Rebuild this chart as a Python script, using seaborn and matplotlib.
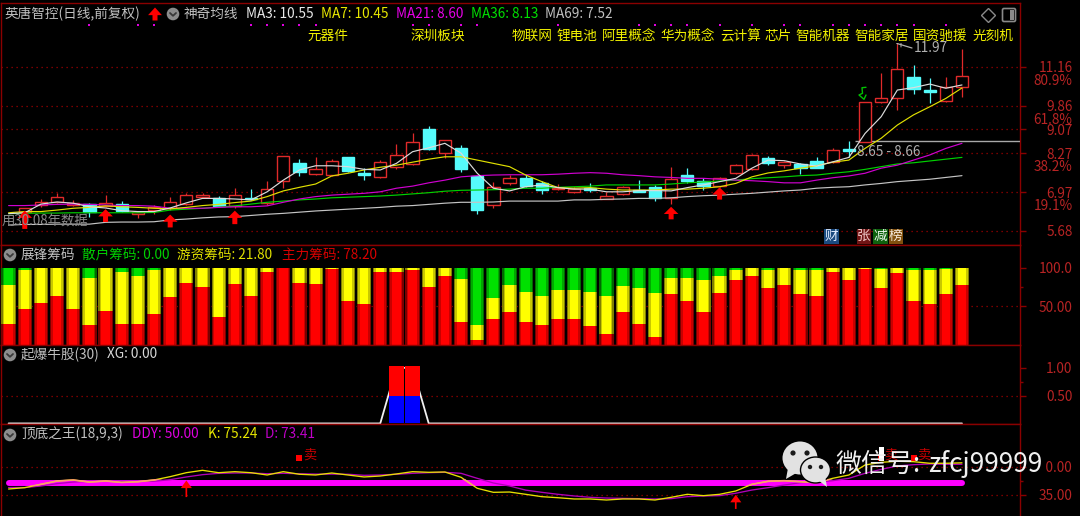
import numpy as np
import pandas as pd
import matplotlib
matplotlib.use("Agg")
import matplotlib.pyplot as plt
from matplotlib.patches import Circle, Ellipse, Polygon, Rectangle, FancyBboxPatch
import seaborn as sns

# ---------------- data ----------------
candle_open = [6.40,6.30,6.54,6.65,6.54,6.57,6.51,6.58,6.23,6.37,6.43,6.57,6.82,6.78,6.52,6.77,6.60,7.35,7.94,7.57,7.54,8.13,7.60,7.49,7.82,7.90,9.07,8.26,8.44,7.52,6.54,7.26,7.45,7.28,7.06,6.99,7.12,6.74,6.90,7.05,7.14,6.78,7.53,7.33,7.18,7.61,7.75,8.10,7.89,7.92,8.02,7.99,8.41,8.65,9.99,10.10,10.83,10.39,10.00,10.47]
candle_close = [6.40,6.45,6.64,6.80,6.62,6.29,6.60,6.35,6.32,6.48,6.63,6.86,6.87,6.51,6.87,6.73,7.06,8.17,7.64,7.75,8.02,7.68,7.55,7.99,8.21,8.65,8.41,8.70,7.73,6.37,7.13,7.43,7.17,7.04,7.12,7.07,7.04,6.84,7.13,6.98,6.78,7.42,7.33,7.18,7.43,7.87,8.20,7.95,7.97,7.79,7.79,8.37,8.34,9.97,10.10,11.09,10.41,10.32,10.47,10.86]
candle_high = [6.40,6.45,6.74,6.94,6.71,6.62,6.87,6.68,6.32,6.54,6.81,6.95,6.95,6.84,7.10,7.07,7.34,8.17,8.07,8.13,8.08,8.15,7.76,8.04,8.57,8.93,9.18,8.71,8.54,7.54,7.32,7.54,7.54,7.34,7.23,7.15,7.26,6.98,7.17,7.37,7.20,7.80,7.76,7.43,7.47,7.91,8.25,8.18,8.02,7.95,8.15,8.43,8.68,9.97,10.94,11.97,11.21,10.79,10.80,11.75]
candle_low = [6.40,6.20,6.47,6.60,6.50,6.15,6.47,6.32,6.11,6.24,6.37,6.54,6.77,6.47,6.45,6.70,6.54,7.12,7.52,7.54,7.51,7.65,7.37,7.45,7.73,7.87,8.38,8.12,7.65,6.23,6.43,7.20,7.15,6.91,7.04,6.95,6.98,6.74,6.87,6.96,6.67,6.57,7.26,7.04,7.13,7.56,7.72,7.87,7.76,7.57,7.77,7.95,8.15,8.65,9.96,9.71,10.25,9.96,9.99,10.16]

ma3 = [6.25,6.28,6.57,6.64,6.60,6.48,6.44,6.35,6.32,6.32,6.44,6.61,6.76,6.76,6.74,6.71,6.98,7.37,7.71,7.85,7.85,7.82,7.73,7.71,7.93,8.32,8.45,8.60,8.27,7.60,7.10,7.01,7.15,7.21,7.12,7.07,7.07,6.98,6.98,7.02,7.02,7.01,7.12,7.21,7.32,7.43,7.77,8.04,8.02,7.91,7.84,7.98,8.13,8.93,9.49,10.38,10.46,10.58,10.44,10.55]
ma7 = [6.28,6.32,6.32,6.37,6.43,6.46,6.51,6.48,6.46,6.43,6.41,6.46,6.52,6.56,6.62,6.67,6.82,7.01,7.13,7.24,7.51,7.60,7.71,7.80,7.87,7.97,8.07,8.15,8.15,8.04,7.93,7.82,7.54,7.32,7.12,7.10,7.12,7.07,7.04,7.04,7.04,7.07,7.07,7.10,7.15,7.26,7.48,7.61,7.68,7.77,7.85,7.97,8.04,8.43,8.77,9.21,9.55,9.82,10.10,10.45]
ma21 = [6.52,6.52,6.54,6.56,6.57,6.56,6.54,6.52,6.52,6.50,6.43,6.43,6.43,6.46,6.48,6.48,6.51,6.63,6.74,6.82,6.87,6.90,6.93,6.98,7.10,7.17,7.28,7.37,7.48,7.52,7.54,7.55,7.55,7.55,7.57,7.60,7.62,7.60,7.55,7.52,7.48,7.46,7.43,7.43,7.40,7.37,7.35,7.32,7.28,7.28,7.37,7.45,7.51,7.60,7.77,7.87,8.04,8.21,8.43,8.60]
ma36 = [6.25,6.26,6.27,6.27,6.28,6.28,6.28,6.28,6.28,6.29,6.37,6.40,6.43,6.47,6.51,6.57,6.63,6.67,6.71,6.74,6.78,6.80,6.82,6.84,6.87,6.91,6.95,7.00,7.03,7.04,7.05,7.07,7.10,7.10,7.13,7.15,7.17,7.21,7.21,7.21,7.21,7.24,7.28,7.31,7.34,7.37,7.42,7.45,7.48,7.52,7.54,7.60,7.65,7.73,7.82,7.91,7.95,8.01,8.07,8.13]
ma69 = [5.87,5.89,5.89,5.90,5.90,5.90,5.96,5.97,5.97,5.98,6.04,6.07,6.11,6.14,6.15,6.19,6.23,6.26,6.30,6.34,6.37,6.40,6.43,6.46,6.50,6.52,6.56,6.60,6.63,6.63,6.64,6.67,6.67,6.67,6.67,6.71,6.71,6.73,6.74,6.76,6.76,6.78,6.82,6.85,6.87,6.90,6.93,6.97,7.01,7.04,7.10,7.13,7.15,7.21,7.26,7.32,7.36,7.40,7.46,7.52]

chip_main = [27.2,46.6,54.3,63.4,46.6,25.9,44,27.2,27.2,40.5,61.6,80.6,75,36.2,79.3,63.4,94.4,99,80.6,79.3,98,57.3,52.6,94.4,94.4,97,75,89.7,30,6.5,33.6,42.2,30,25.9,33.6,33.6,24.6,14.2,42.2,27.2,10.8,66,57.3,42.2,67.7,84,89.7,73.7,78,66,63.4,94.4,84,98.3,73.7,93.1,57.3,52.6,66,78.2]
chip_main_hot = [78,97,99,99,99,86.6,99,94.4,89.7,97,99,99,99,99,99,99,99,99,99,99,99,99,99,99,99,99.5,99,99,85.3,25.9,60.3,78,69,63.4,71.1,71.1,69,63.4,76.3,73.7,67.7,87,87,84,89.7,97,99,97,99,97,97,99,99,99,98.3,99,97,97,98.3,100]

xg = [0]*24 + [1,1] + [0]*34
xg_blue = [0.5, 0.5]
xg_red = [0.53, 0.53]
ddy = [50]*60
kdj_k = [42.2,43.9,48.1,52.3,53.6,51,52.3,50.5,51.4,53.6,57.8,62.8,65.8,62.8,64.1,62.8,59.9,64.1,60.8,59.9,62.4,59.9,57.4,58.6,61.2,64.1,63.3,63.7,57,43.1,38,38.4,35.5,32.5,31.2,29.6,29.6,28.3,29.6,29.6,28.3,31.7,35.5,33.8,35.5,39.7,48.1,51.9,52.7,51.4,50.2,55.7,59.9,72.5,75.9,77.2,76.7,74.7,74.7,75.24]
kdj_d = [44,44,46,49,51,52,52,52,52,52,54,57.4,60.3,62,62.4,62.4,61.5,62,61.5,61,61,60.8,59.5,59.9,60.8,62,62.8,63.3,62,55.7,49.8,46,40.8,38,35.5,33.4,31.7,30.8,30.4,30,29.6,30,32.5,33.4,33.8,36.8,40.9,43.9,47.2,50.2,50.9,52.7,55.7,62,67,71.3,72.9,73.8,73.4,73.41]

price_ticks = [11.16, 9.86, 9.07, 8.27, 6.97, 5.68]
price_labels = ["11.16", "9.86", "9.07", "8.27", "6.97", "5.68"]
fib_levels = [10.72, 9.44, 7.87, 6.54]
fib_labels = ["80.9%", "61.8%", "38.2%", "19.1%"]
chip_ticks = [100, 50]
chip_labels = ["100.0", "50.00"]
xg_ticks = [1, 0.5]
xg_labels = ["1.00", "0.50"]
kdj_ticks = [70, 35]
kdj_labels = ["70.00", "35.00"]
arrow_up_idx = [1, 6, 10, 14, 41, 44]
arrow_up_top = [6.35, 6.40, 6.22, 6.35, 6.48, 7.13]
arrow_up_bot = [5.74, 5.97, 5.79, 5.90, 6.06, 6.72]
dot_idx = [5,8,9,15,16,17,18,19,25,26,28,29,34,39,40,41,42,44,46,48,49,51,52,53,54,55,56,58]
sectors = ["元器件","深圳板块","物联网","锂电池","阿里概念","华为概念","云计算","芯片","智能机器","智能家居","国资驰援","光刻机"]

idx = np.arange(60)
df = pd.DataFrame({"i": idx, "MA3": ma3, "MA7": ma7, "MA21": ma21, "MA36": ma36, "MA69": ma69,
                   "main": chip_main, "hot": chip_main_hot, "xg": xg, "ddy": ddy, "k": kdj_k, "d": kdj_d})

# ---------------- style ----------------
sns.set_theme(style="dark", rc={"axes.facecolor": "black", "figure.facecolor": "black", "patch.edgecolor": "none"})
FONT = ["Noto Sans CJK SC", "DejaVu Sans"]
plt.rcParams["font.family"] = FONT
plt.rcParams["axes.unicode_minus"] = False
W, H = 1080, 516
FRAME = "#8a0000"
TICKTXT = "#b82424"
FS = 9.8

fig = plt.figure(figsize=(W / 100, H / 100), dpi=100, facecolor="black")

def panel(top, bottom, left=1, right=1020):
    return fig.add_axes([left / W, 1 - bottom / H, (right - left) / W, (bottom - top) / H])

ax1 = panel(3, 245)
ax2 = panel(245, 345)
ax3 = panel(345, 424)
ax4 = panel(424, 516)
xlim = (-0.47, 62.59)

# ---- main candles ----
CY = "#55fbfb"
RD = "#e02a2a"
for i, o, c, h, l in zip(idx[1:], candle_open[1:], candle_close[1:], candle_high[1:], candle_low[1:]):
    up = c >= o
    col = RD if up else CY
    ax1.vlines(i, l, h, color=col, lw=0.9, zorder=3)
    lo, hi = min(o, c), max(o, c)
    ax1.bar(i, max(hi - lo, 0.05), bottom=lo, width=0.76, color="black" if up else CY,
            edgecolor=col, linewidth=1.0, zorder=3.2)

line_styles = [("MA69", "#c4c4c4"), ("MA36", "#00d000"), ("MA21", "#d000d0"), ("MA7", "#e0e000"), ("MA3", "#dcdcdc")]
for name, col in line_styles:
    sns.lineplot(data=df, x="i", y=name, color=col, lw=0.85, ax=ax1, legend=False, errorbar=None, zorder=4)

ax1.scatter(dot_idx, [12.55] * len(dot_idx), s=3.5, marker="s", color="#e000e0", linewidths=0, zorder=5)
ax1.hlines(8.69, 52.4, xlim[1], color="#a8a8a8", lw=1.0, zorder=3)

def up_arrow(ax, x, top, bot, width, head, hlen):
    ax.annotate("", xy=(x, top), xytext=(x, bot), zorder=4.5,
                arrowprops=dict(facecolor="#ff0000", edgecolor="none", width=width, headwidth=head,
                                headlength=hlen, shrink=0))

for x, t, b in zip(arrow_up_idx, arrow_up_top, arrow_up_bot):
    up_arrow(ax1, x, t, b, 3.6, 10.5, 5.2)

ax1.set_ylim(5.203, 13.288)

# ---- chips ----
shades = [(0.88, "#006800", "#808000", "#7a0000"),
          (0.74, "#00a800", "#c8c800", "#c80000"),
          (0.52, "#00e000", "#ffff00", "#ff0000")]
for wid, g, y, r in shades:
    sns.barplot(x=idx, y=[100] * 60, native_scale=True, width=wid, color=g, saturation=1, ax=ax2, zorder=3, linewidth=0)
    sns.barplot(x=idx, y=df["hot"].values, native_scale=True, width=wid, color=y, saturation=1, ax=ax2, zorder=3, linewidth=0)
    sns.barplot(x=idx, y=df["main"].values, native_scale=True, width=wid, color=r, saturation=1, ax=ax2, zorder=3, linewidth=0)
ax2.set_ylim(0, 129.4)

# ---- XG ----
sns.lineplot(data=df, x="i", y="xg", color="#f0f0f0", lw=1.3, ax=ax3, legend=False, errorbar=None, zorder=2)
ax3.bar([24, 25], xg_blue, width=0.97, color="#0000ff", linewidth=0, zorder=3)
ax3.bar([24, 25], xg_red, bottom=xg_blue, width=0.97, color="#ff0000", linewidth=0, zorder=3)
ax3.set_ylim(-0.01, 1.41)

# ---- KDJ ----
ax4.plot(df["i"], df["ddy"], color="#ff00ff", lw=4.3, solid_capstyle="round", zorder=2)
sns.lineplot(data=df, x="i", y="d", color="#b000b8", lw=0.95, ax=ax4, legend=False, errorbar=None, zorder=3)
sns.lineplot(data=df, x="i", y="k", color="#e8e000", lw=0.95, ax=ax4, legend=False, errorbar=None, zorder=3.5)
band = Rectangle((-1, 45.5), 70, 9, transform=ax4.transData)
over_band, = ax4.plot(df["i"], df["k"], color="#ff9a70", lw=1.2, zorder=3.6)
over_band.set_clip_path(band)
ax4.scatter([18, 54, 56], [81.4] * 3, s=22, marker="s", color="#ff0000", linewidths=0, zorder=4)
for i in [18, 54, 56]:
    ax4.text(i + 0.62, 84.5, "卖", color="#c80000", fontsize=9.5, ha="center", va="center", zorder=4,
             family=FONT)
up_arrow(ax4, 11, 53, 32, 1.2, 8, 5.5)
up_arrow(ax4, 45, 35, 17, 1.2, 8, 5.5)
ax4.set_ylim(8.1, 124.3)

# ---- axes cosmetics ----
grids = [(ax1, price_ticks), (ax2, [50]), (ax3, [0.5]), (ax4, kdj_ticks)]
for ax, lv in grids:
    for v in lv:
        ax.axhline(v, color="#a00000", lw=0.9, ls=(0, (1, 3)), zorder=1)

tick_cfg = [(ax1, price_ticks, price_labels), (ax2, chip_ticks, chip_labels), (ax3, xg_ticks, xg_labels), (ax4, kdj_ticks, kdj_labels)]
for ax, t, l in tick_cfg:
    ax.set_xlim(*xlim)
    ax.set_xticks([])
    ax.set_xlabel("")
    ax.set_ylabel("")
    ax.grid(False)
    ax.set_facecolor("black")
    ax.yaxis.tick_right()
    ax.set_yticks(t)
    ax.set_yticklabels(l, fontsize=FS, color=TICKTXT, ha="right")
    ax.tick_params(axis="y", which="major", length=4.3, width=1, color=FRAME, pad=33.5, left=False, right=True)
    for s in ax.spines.values():
        s.set_color(FRAME)
        s.set_linewidth(1.0)
        s.set_visible(True)
    ax.spines["bottom"].set_visible(ax is not ax4)

ax1.set_yticks(fib_levels, minor=True)
ax1.set_yticklabels(fib_labels, minor=True, fontsize=FS, color=TICKTXT, ha="right")
ax1.tick_params(axis="y", which="minor", length=0, pad=37.8, right=True, left=False)
ax2.set_yticks([75], minor=True); ax3.set_yticks([0.75], minor=True); ax4.set_yticks([52.5], minor=True)
for ax in (ax2, ax3, ax4):
    ax.tick_params(axis="y", which="minor", length=2, width=1, color=FRAME, right=True, left=False)

# ---- overlay for header text and icons (pixel coordinates) ----
ov = fig.add_axes([0, 0, 1, 1], facecolor="none", zorder=10)
ov.set_xlim(0, W)
ov.set_ylim(H, 0)
ov.axis("off")

def txt(x, y, s, c, fs=FS, **kw):
    kw.setdefault("ha", "left")
    return ov.text(x, y, s, color=c, fontsize=fs, va="center", family=FONT, **kw)

def button(x, y):
    ov.add_patch(Circle((x, y), 6.3, color="#8c8c8c", lw=0))
    ov.plot([x - 3, x, x + 3], [y - 1, y + 1.8, y - 1], color="#383838", lw=1.3)

GREY = "#c0c0c0"
txt(4, 14, "英唐智控(日线,前复权)", GREY)
ov.annotate("", xy=(155, 7.5), xytext=(155, 20.5),
            arrowprops=dict(facecolor="#ff0000", edgecolor="none", width=3.6, headwidth=10, headlength=5.5, shrink=0))
button(173, 14)
txt(184, 14, "神奇均线", GREY)
txt(246, 14, "MA3: 10.55", "#e8e8e8")
txt(321, 14, "MA7: 10.45", "#e8e800")
txt(396, 14, "MA21: 8.60", "#e800e8")
txt(471, 14, "MA36: 8.13", "#00e000")
txt(545, 14, "MA69: 7.52", "#c0c0c0")
ov.plot([988], [15], marker="D", ms=7.5, mfc="none", mec="#8a8a8a", mew=1)
ov.add_patch(FancyBboxPatch((1004, 10), 10, 10, boxstyle="round,pad=1.5", fc="none", ec="#8a8a8a", lw=1.2))
ov.add_patch(Rectangle((1010, 10), 4, 10, color="#8a8a8a", lw=0))

sector_x = [307.5, 410, 512, 557, 602, 660.5, 720, 764, 795, 854, 912.6, 973]
for i, (x, s) in enumerate(zip(sector_x, sectors)):
    txt(x, 36, s, "#f0f000", bbox=dict(fc="black", ec="none", pad=0.3))

button(10, 255)
txt(21, 255, "展锋筹码", GREY)
txt(82, 255, "散户筹码: 0.00", "#00d000")
txt(177, 255, "游资筹码: 21.80", "#e0e000")
txt(282, 255, "主力筹码: 78.20", "#d80000")
button(10, 355)
txt(21, 354.5, "起爆牛股(30)", GREY)
txt(107, 354.5, "XG: 0.00", "#d8d8d8")
button(10, 435)
txt(21, 434, "顶底之王(18,9,3)", GREY)
txt(131.5, 434, "DDY: 50.00", "#e000e0")
txt(208, 434, "K: 75.24", "#e8e800")
txt(265, 434, "D: 73.41", "#c000c8")

txt(2, 222, "用30.08年数据", "#8a8a8a", fs=9.6)
txt(914, 48, "11.97", "#b0b0b0", fs=FS)
ov.plot([897, 912], [43.5, 48], color="#b0b0b0", lw=0.9)
ov.plot([897, 901, 901], [43.5, 41, 47], color="#b0b0b0", lw=0.7)
txt(857, 151.5, "8.65 - 8.66", "#b0b0b0", fs=FS)
ov.plot([866, 862, 862.5, 859, 864, 866], [87.3, 87.7, 93.3, 95, 99.3, 95], color="#00c000", lw=1)

for x0, x1, s, bg, fc in [(824, 839, "财", "#1a4a80", "#e0ecff"), (856.5, 871, "张", "#701414", "#f0c8c8"),
                          (873, 888, "减", "#0e620e", "#e8f4e8"), (888.5, 903, "榜", "#80500e", "#f4e8d8")]:
    ov.add_patch(Rectangle((x0, 229), x1 - x0, 15, color=bg, lw=0))
    txt((x0 + x1) / 2, 236, s, fc, ha="center")

# watermark
ov.add_patch(Rectangle((1034, 458), 11.5, 16, color="black", lw=0))
ov.add_patch(Rectangle((878.5, 447), 5, 14, color="#ffffff", lw=0))
WM = "#e2e2e2"
ov.add_patch(Ellipse((800, 458), 35, 33, color=WM, lw=0))
ov.add_patch(Polygon([(788, 468), (786, 479), (798, 472)], color=WM, lw=0))
ov.add_patch(Ellipse((815.5, 470), 30, 26, fc=WM, ec="black", lw=1))
ov.add_patch(Polygon([(818, 480), (827, 487), (825, 476)], color=WM, lw=0))
ov.scatter([793, 807, 810, 821], [453, 453, 467, 467], s=[14, 14, 10, 10], color="#1a1a1a", linewidths=0, zorder=5)
txt(835.5, 464.5, "微信号:", "#f0f0f0", fs=18.7)
txt(928, 464.5, "zfcj99999", "#f0f0f0", fs=19)

fig.savefig("out.png", dpi=100, facecolor="black")
